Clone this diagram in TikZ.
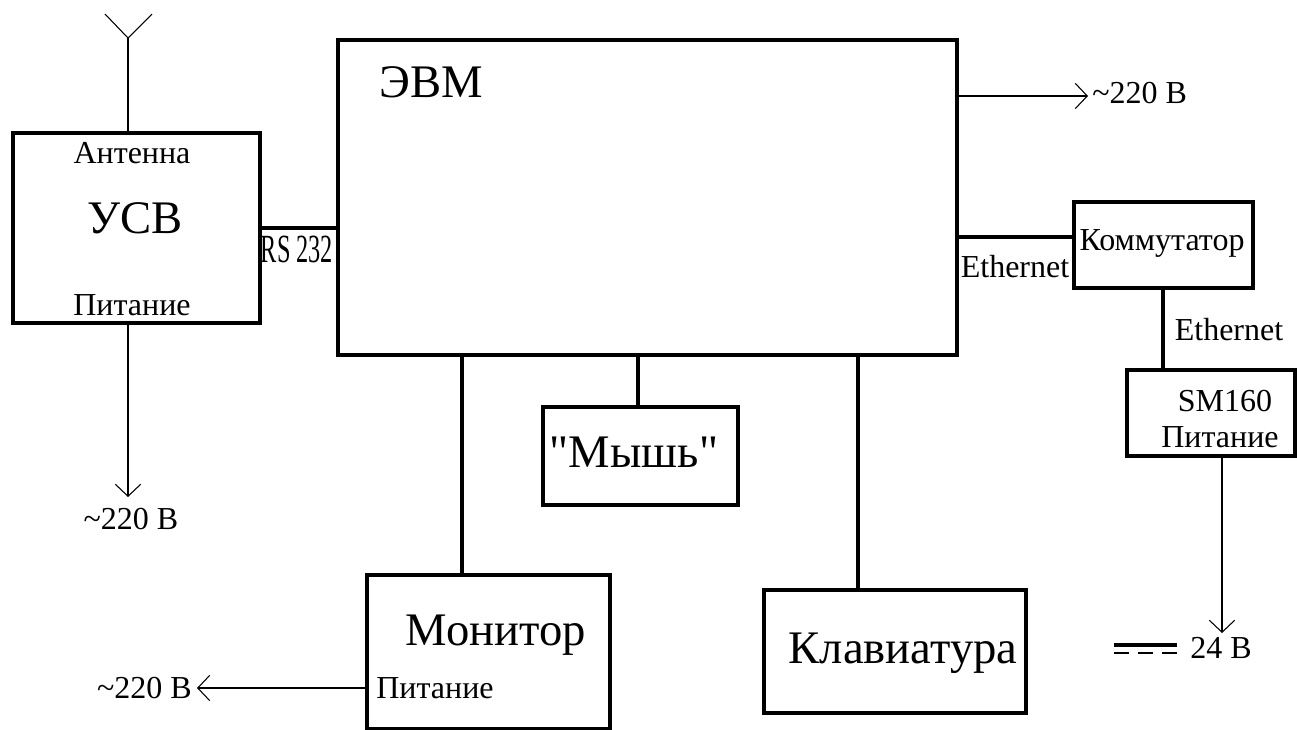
\documentclass[tikz,border=0pt]{standalone}
\usepackage{fontspec}
\setmainfont{Liberation Serif}
\newfontfamily\qfont{Liberation Serif}
\usepackage{graphicx}
\usetikzlibrary{fit,arrows.meta}
\begin{document}
\begin{tikzpicture}
		[	x=0.75pt,y=-0.75pt,
		blok/.style={rectangle,draw=black,line width=3pt,inner sep=0pt},
		link/.style={draw=black,line width=3pt},
		wire/.style={draw=black,line width=0.8pt},
		pwr/.style={wire,-{Straight Barb[length=9pt,width=19pt]}},
		txt/.style={draw=none,fill=none,inner sep=0pt,anchor=base,font=\fontsize{24}{26}\selectfont},
		big/.style={draw=none,fill=none,inner sep=0pt,anchor=base,font=\fontsize{35}{38}\selectfont}
		]
		\useasboundingbox (0,0) rectangle (1297,729);
		\node[blok,fit={(13,133) (260,323)}] (usv) {};
		\node[blok,fit={(338,40) (957,355)}] (evm) {};
		\node[blok,fit={(1074,202) (1253,288)}] (komm) {};
		\node[blok,fit={(1127,370) (1295,456)}] (sm) {};
		\node[blok,fit={(543,407) (738,505)}] (mysh) {};
		\node[blok,fit={(367,575) (610,729)}] (mon) {};
		\node[blok,fit={(764,590) (1026,713)}] (klav) {};
\node[txt] (antT) at (132,163){Антенна};
\node[big] (usvT) at (135,233){УСВ};
\node[txt] (usvP) at (132,315){Питание};
\node[txt] (rsT) at (297,262){\scalebox{0.76}[1.25]{RS 232}};
\node[big] (evmT) at (431,97){ЭВМ};
\node[txt,anchor=base west] (v1) at (1092,103){\textasciitilde220 В};
\node[txt] (eth1) at (1015,277){Ethernet};
\node[txt] (kommT) at (1162,250){Коммутатор};
\node[txt] (eth2) at (1229,340){Ethernet};
\node[txt] (smT) at (1225,411){SM160};
\node[txt] (smP) at (1220,447){Питание};
\node[txt] (v2) at (131,529){\textasciitilde220 В};
\node[big] (myshT) at (634,467){\qfont "Мышь"};
\node[big] (monT) at (496,645){Монитор};
\node[txt] (monP) at (435,698){Питание};
\node[txt,anchor=base east] (v3) at (192,698){\textasciitilde220 В};
\node[big] (klavT) at (903,663){Клавиатура};
\node[txt,anchor=base west] (v4) at (1190,658){24 В};
		\coordinate (antV) at (128,38);
		\coordinate (antL) at (105,14);
		\coordinate (antR) at (152,14);
		\draw[wire] (antL) -- (antV) -- (antR);
		\draw[wire] (antV) -- (antV |- usv.north);
		\coordinate (usvE) at (128,497);
		\draw[pwr] (antV |- usv.south) -- (usvE);
		\coordinate (rsY) at (300,228);
		\draw[link] (usv.east |- rsY) -- (evm.west |- rsY);
		\coordinate (evmE) at (1088,96);
		\draw[pwr] (evm.east |- evmE) -- (evmE);
		\coordinate (ethY) at (1000,237);
		\draw[link] (evm.east |- ethY) -- (komm.west |- ethY);
		\coordinate (smX) at (1163,300);
		\draw[link] (komm.south -| smX) -- (sm.north -| smX);
		\coordinate (smE) at (1222,633);
		\draw[pwr] (sm.south -| smE) -- (smE);
		\coordinate (myshX) at (638,380);
		\draw[link] (evm.south -| myshX) -- (mysh.north -| myshX);
		\coordinate (monX) at (462,450);
		\draw[link] (evm.south -| monX) -- (mon.north -| monX);
		\coordinate (klavX) at (858,450);
		\draw[link] (evm.south -| klavX) -- (klav.north -| klavX);
		\coordinate (monE) at (197,688);
		\draw[pwr] (mon.west |- monE) -- (monE);
		% 24 V sign
		\coordinate (dcA) at (1114,645);
		\coordinate (dcB) at (1177,645);
		\coordinate (dcC) at (1114,653);
		\coordinate (dcD) at (1177,653);
		\draw[line width=2.4pt] (dcA) -- (dcB);
		\draw[line width=0.8pt,dash pattern=on 11.25pt off 6.75pt] (dcC) -- (dcD);
\end{tikzpicture}
\end{document}
